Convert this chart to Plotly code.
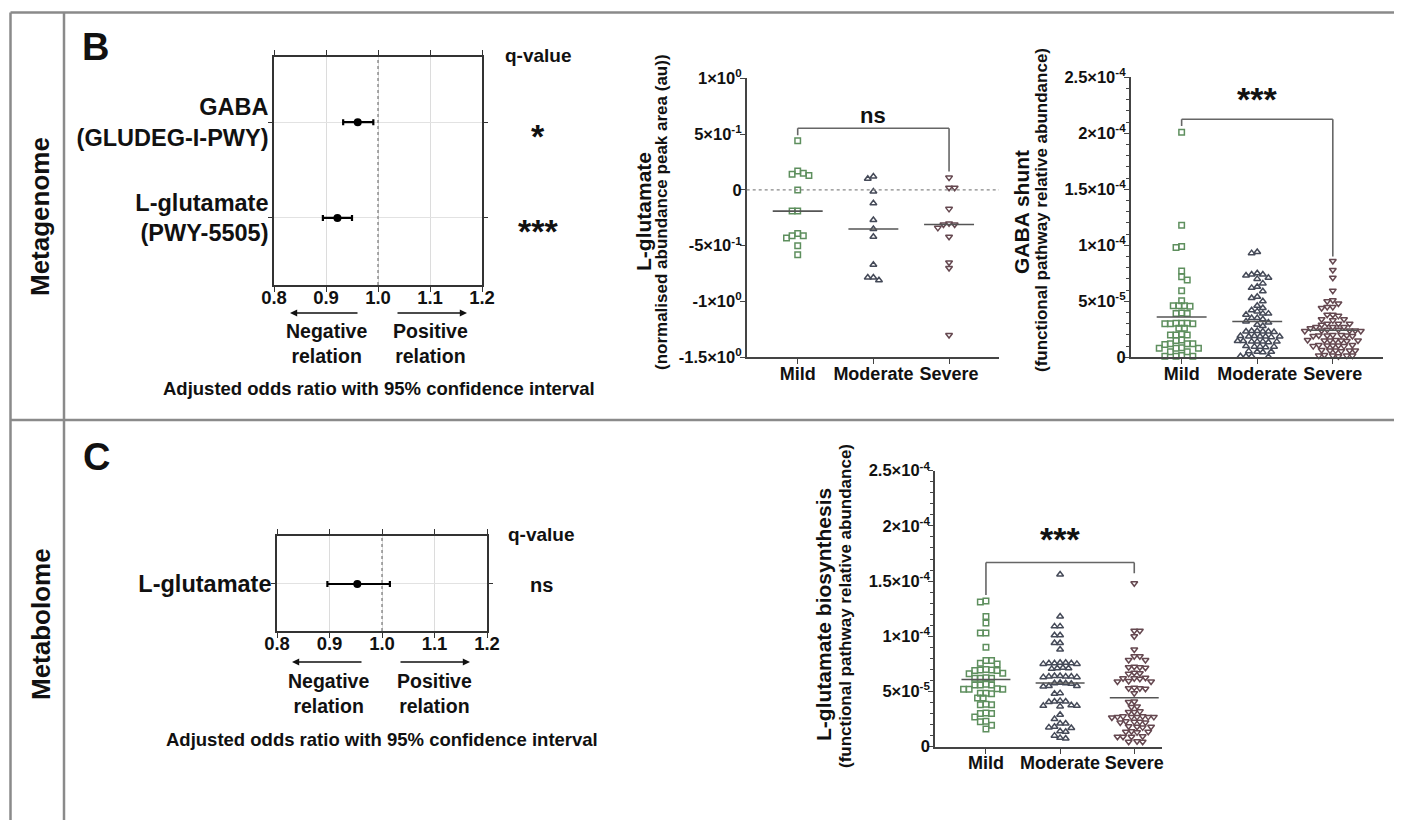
import numpy as np
import plotly.graph_objects as go

W, H = 1402, 820          # browser window
BODY = 8                  # default page margin around the plot div
FW, FH = W - BODY, H - BODY
FONT = "Liberation Sans, Arial, sans-serif"

# ---------------- data ----------------
groups = ["Mild", "Moderate", "Severe"]

# forest plots (adjusted odds ratio, 95% CI)
forest_b_labels = ["GABA<br>(GLUDEG-I-PWY)", "L-glutamate<br>(PWY-5505)"]
forest_b_or = [0.961, 0.922]
forest_b_lo = [0.933, 0.894]
forest_b_hi = [0.991, 0.950]
forest_b_q = ["*", "***"]

forest_c_labels = ["L-glutamate"]
forest_c_or = [0.953]
forest_c_lo = [0.896]
forest_c_hi = [1.015]
forest_c_q = ["ns"]

forest_ticks = [0.8, 0.9, 1.0, 1.1, 1.2]

# L-glutamate (normalised abundance peak area)
lglu_mild = [0.44, 0.17, 0.15, 0.13, 0.14, 0.0, -0.19, -0.19, -0.39, -0.41, -0.43, -0.41, -0.50, -0.58]
lglu_moderate = [0.10, 0.12, -0.015, -0.12, -0.27, -0.35, -0.42, -0.67, -0.81, -0.785, -0.785]
lglu_severe = [0.11, 0.02, 0.02, -0.17, -0.30, -0.31, -0.31, -0.34, -0.42, -0.65, -0.70, -1.30]
lglu_ticks = [1, 0.5, 0, -0.5, -1, -1.5]
lglu_ticktext = ["1×10<sup>0</sup>", "5×10<sup>-1</sup>", "0", "-5×10<sup>-1</sup>",
                 "-1×10<sup>0</sup>", "-1.5×10<sup>0</sup>"]

# GABA shunt (values in units of 1e-5)
gaba_mild = [20.1, 11.8, 9.9, 9.8, 7.7, 7.2, 6.9, 5.95, 5.06, 4.6, 4.6, 4.55, 4.6, 3.95, 3.9, 3.9,
             3.05, 3.0, 3.05, 3.0, 3.0, 3.05, 2.6, 2.6, 2.0, 2.05, 2.0, 2.0, 1.55, 1.5, 1.2, 1.2,
             1.15, 1.2, 0.8, 0.8, 0.85, 0.8, 0.5, 0.5, 0.1, 0.15, 0.1, 0.1]
gaba_moderate = [9.4, 9.3, 7.5, 7.4, 7.4, 7.3, 7.1, 7.0, 6.6, 6.3, 6.2, 5.9, 5.4, 5.3, 5.0, 4.6, 4.4,
                 4.2, 4.1, 3.9, 3.9, 3.8, 3.5, 3.5, 3.4, 3.2, 3.1, 2.9, 2.8,
                 2.35, 2.3, 2.3, 2.25, 2.3, 2.35, 1.9, 1.85, 1.85, 1.8, 1.85, 1.9, 1.85,
                 1.4, 1.45, 1.4, 1.35, 1.4, 1.45, 1.4, 0.95, 0.9, 1.0, 0.95, 0.95,
                 0.5, 0.5, 0.55, 0.45, 0.1, 0.05, 0.1, 0.1]
gaba_severe = [8.6, 7.8, 7.1, 5.95, 5.1, 5.0, 4.8, 4.5, 4.5, 4.4, 3.8, 3.8, 3.7, 3.4, 3.4, 3.3,
               3.0, 3.0, 3.0, 2.9, 2.7, 2.7, 2.7, 2.6,
               2.45, 2.4, 2.4, 2.35, 2.4, 2.45, 2.35, 1.95, 2.0, 1.95, 1.9, 1.95, 2.0, 1.9,
               1.5, 1.55, 1.5, 1.45, 1.5, 1.55, 1.5, 1.05, 1.1, 1.05, 1.0, 1.05, 1.1, 1.0,
               0.6, 0.65, 0.6, 0.55, 0.6, 0.6, 0.15, 0.2, 0.15, 0.1, 0.15, 0.15]
e5_ticks = [0, 5, 10, 15, 20, 25]
e5_ticktext = ["0", "5×10<sup>-5</sup>", "1×10<sup>-4</sup>", "1.5×10<sup>-4</sup>",
               "2×10<sup>-4</sup>", "2.5×10<sup>-4</sup>"]
E5 = 1e-5

# L-glutamate biosynthesis (values in units of 1e-5)
bio_mild = [13.1, 13.2, 11.8, 11.2, 10.3, 10.3, 9.0, 7.8, 7.8, 7.55, 7.5, 6.95, 6.9, 6.95, 7.0, 6.9,
            6.65, 6.6, 6.2, 6.2, 6.25, 6.2, 5.6, 5.6, 5.65, 5.6, 5.2, 5.2, 5.25, 5.2, 4.85, 4.8,
            4.85, 4.4, 4.4, 3.8, 3.8, 3.85, 3.0, 3.0, 3.05, 2.7, 2.3, 2.25, 1.95, 1.6]
bio_moderate = [15.6, 11.8, 10.9, 10.9, 10.1, 10.1, 9.4, 9.4, 8.8, 7.6, 7.55, 7.5, 7.55, 7.6, 7.5,
                7.55, 7.1, 7.15, 7.05, 7.1, 6.4, 6.35, 6.3, 6.35, 6.4, 6.3, 6.35, 5.75, 5.7, 5.8,
                5.75, 5.5, 5.45, 5.5, 4.85, 4.8, 4.1, 4.05, 4.1, 4.15, 3.7, 3.65, 3.7, 3.75, 2.9,
                2.5, 2.1, 2.1, 1.75, 1.7, 1.8, 1.35, 1.4, 1.0, 0.75, 0.8]
bio_severe = [14.8, 10.5, 10.5, 10.0, 8.8, 8.2, 8.2, 7.85, 7.85, 7.2, 7.15, 7.2, 7.25, 6.65, 6.6,
              6.7, 6.2, 6.2, 6.25, 6.15, 5.9, 5.95, 5.9, 5.3, 5.3, 5.25, 5.35, 4.85, 4.1, 4.05,
              3.6, 3.65, 3.15, 3.2, 3.15, 2.7, 2.7, 2.75, 2.7, 2.65, 2.7, 2.75, 2.7, 2.25, 2.3,
              2.25, 2.2, 2.2, 1.8, 1.8, 1.85, 1.75, 1.4, 1.35, 1.35, 1.3, 0.9, 0.9, 0.95, 0.9,
              0.5, 0.45, 0.45]

# ---------------- geometry helpers (page pixels -> paper fraction) ----------------
def px(x):
    return (x - BODY) / FW


def py(y):
    return 1 - (y - BODY) / FH


MILD_C, MOD_C, SEV_C = "#5e8f5e", "#454a58", "#654850"
group_styles = [
    dict(symbol="square-open", color=MILD_C, size=5.5),
    dict(symbol="triangle-up-open", color=MOD_C, size=6),
    dict(symbol="triangle-down-open", color=SEV_C, size=6),
]

panels = {
    "lglu": dict(ax=3, xpx=(746.7, 999.0), xr=(-0.674, 2.66), ypx=(357.3, 78.3), yr=(-1.5, 1.0)),
    "gaba": dict(ax=4, xpx=(1130.7, 1382.7), xr=(-0.674, 2.66), ypx=(357.3, 77.3), yr=(0, 25)),
    "bio": dict(ax=5, xpx=(935.0, 1161.7), xr=(-0.687, 2.37), ypx=(746.7, 470.7), yr=(0, 25)),
}


def swarm_offsets(vals, y_ppu, x_ppu, d=5.6):
    vals = np.asarray(vals, float)
    ypix = vals * y_ppu
    order = np.argsort(-vals, kind="stable")
    step = d / 2.0
    placed = []
    xoff = np.zeros(len(vals))
    for n, idx in enumerate(order):
        sign = 1 if n % 2 == 0 else -1
        cands = [0.0]
        for k in range(1, 120):
            cands += [sign * k * step, -sign * k * step]
        for c in cands:
            if all((c - a) ** 2 + (ypix[idx] - b) ** 2 >= d * d * 0.97 for a, b in placed):
                break
        placed.append((c, ypix[idx]))
        xoff[idx] = c / x_ppu
    return xoff


fig = go.Figure()
shapes = []
annotations = []


def add_forest(xa, ya, labels, orv, lo, hi):
    rows = list(range(len(labels), 0, -1))
    orv = np.array(orv); lo = np.array(lo); hi = np.array(hi)
    fig.add_trace(go.Scatter(
        x=orv, y=rows, mode="markers", xaxis=xa, yaxis=ya,
        marker=dict(color="black", size=8, symbol="circle"),
        error_x=dict(type="data", symmetric=False, array=hi - orv, arrayminus=orv - lo,
                     thickness=2.2, width=3, color="black"),
        showlegend=False, hoverinfo="skip"))
    return rows


rows_b = add_forest("x", "y", forest_b_labels, forest_b_or, forest_b_lo, forest_b_hi)
rows_c = add_forest("x2", "y2", forest_c_labels, forest_c_or, forest_c_lo, forest_c_hi)

forest_axis = dict(range=[0.8, 1.2], tickvals=forest_ticks,
                   ticktext=[f"{t:.1f}" for t in forest_ticks],
                   showgrid=True, gridcolor="#dcdcdc", gridwidth=1, zeroline=False,
                   showline=True, linecolor="#333", linewidth=1.6, mirror="allticks",
                   ticks="outside", ticklen=5, tickcolor="#333", tickwidth=1.3, automargin=False,
                   ticklabelstandoff=-10,
                   tickfont=dict(family=FONT, size=18.5, color="#111", weight="bold"), fixedrange=True)

scatter_sets = [
    ("lglu", [lglu_mild, lglu_moderate, lglu_severe], 1.0, np.median),
    ("gaba", [gaba_mild, gaba_moderate, gaba_severe], E5, np.mean),
    ("bio", [bio_mild, bio_moderate, bio_severe], E5, np.mean),
]

for key, data, scale, stat in scatter_sets:
    p = panels[key]
    xa, ya = f"x{p['ax']}", f"y{p['ax']}"
    x_ppu = (p["xpx"][1] - p["xpx"][0]) / (p["xr"][1] - p["xr"][0])
    y_ppu = (p["ypx"][0] - p["ypx"][1]) / (p["yr"][1] - p["yr"][0])
    for gi, vals in enumerate(data):
        offs = swarm_offsets(vals, y_ppu, x_ppu)
        st = group_styles[gi]
        fig.add_trace(go.Scatter(
            x=gi + offs, y=np.array(vals) * scale, mode="markers", xaxis=xa, yaxis=ya,
            marker=dict(symbol=st["symbol"], color=st["color"], size=st["size"],
                        line=dict(width=1.5, color=st["color"])),
            cliponaxis=False, showlegend=False, hoverinfo="skip"))
        c = float(stat(vals)) * scale
        shapes.append(dict(type="line", xref=xa, yref=ya, x0=gi - 0.33, x1=gi + 0.33, y0=c, y1=c,
                           line=dict(color="#555", width=1.6)))

scatter_x_axis = dict(tickvals=[0, 1, 2], ticktext=groups, showgrid=False, zeroline=False,
                      showline=True, linecolor="#444", linewidth=1.6, ticks="outside", ticklen=5,
                      tickcolor="#444", tickwidth=1.3, automargin=False, ticklabelstandoff=-6,
                      tickfont=dict(family=FONT, size=18, color="#111", weight="bold"), fixedrange=True)
scatter_y_axis = dict(showgrid=False, zeroline=False, showline=True, linecolor="#444", linewidth=1.6,
                      ticks="outside", ticklen=5, tickcolor="#444", tickwidth=1.3, automargin=False,
                      ticklabelstandoff=-5,
                      tickfont=dict(family=FONT, size=16.5, color="#111", weight="bold"), fixedrange=True)

forest_y_common = dict(showgrid=True, gridcolor="#e2e2e2", zeroline=False, showline=True,
                       linecolor="#333", linewidth=1.6, mirror="allticks", ticks="outside", ticklen=4,
                       tickcolor="#333", automargin=False, ticklabelstandoff=-5,
                       tickfont=dict(family=FONT, size=23.5, color="#111", weight="bold"),
                       fixedrange=True)

layout_axes = {}
layout_axes["xaxis"] = dict(forest_axis, domain=[px(274), px(482)], anchor="y")
layout_axes["yaxis"] = dict(forest_y_common, domain=[py(285), py(57)], anchor="x", range=[0.30, 2.68],
                            tickvals=rows_b, ticktext=forest_b_labels)
layout_axes["xaxis2"] = dict(forest_axis, domain=[px(277), px(487)], anchor="y2")
layout_axes["yaxis2"] = dict(forest_y_common, domain=[py(631), py(536)], anchor="x2", range=[0.51, 1.50],
                             tickvals=rows_c, ticktext=forest_c_labels)

for key, p in panels.items():
    n = p["ax"]
    layout_axes[f"xaxis{n}"] = dict(scatter_x_axis, domain=[px(p["xpx"][0]), px(p["xpx"][1])],
                                    range=list(p["xr"]), anchor=f"y{n}")
    yax = dict(scatter_y_axis, domain=[py(p["ypx"][0]), py(p["ypx"][1])], anchor=f"x{n}")
    if key == "lglu":
        yax.update(range=list(p["yr"]), tickvals=lglu_ticks, ticktext=lglu_ticktext)
    else:
        yax.update(range=[p["yr"][0] * E5, p["yr"][1] * E5], tickvals=[t * E5 for t in e5_ticks],
                   ticktext=e5_ticktext,
                   minor=dict(ticks="outside", ticklen=3, dtick=E5, tickcolor="#444", tickwidth=1))
    layout_axes[f"yaxis{n}"] = yax

# dotted reference lines
shapes.append(dict(type="line", xref="x", yref="y domain", x0=1.0, x1=1.0, y0=0, y1=1,
                   line=dict(color="#777", width=1.2, dash="dot")))
shapes.append(dict(type="line", xref="x2", yref="y2 domain", x0=1.0, x1=1.0, y0=0, y1=1,
                   line=dict(color="#777", width=1.2, dash="dot")))
shapes.append(dict(type="line", xref="x3 domain", yref="y3", x0=0, x1=1, y0=0, y1=0,
                   line=dict(color="#888", width=1.2, dash="dot")))

# significance brackets: (axis id, y_bar, y_left_end, y_right_end, text, text_y)
brackets = [
    (3, 0.552, 0.49, 0.164, "ns", 0.67),
    (4, 21.25 * E5, 20.65 * E5, 8.99 * E5, "***", 23.9 * E5),
    (5, 16.68 * E5, 13.75 * E5, 15.7 * E5, "***", 19.6 * E5),
]
for n, yb, yl, yr_, label, ty in brackets:
    xa, ya = f"x{n}", f"y{n}"
    for (x0, y0, x1, y1) in [(0, yl, 0, yb), (0, yb, 2, yb), (2, yb, 2, yr_)]:
        shapes.append(dict(type="line", xref=xa, yref=ya, x0=x0, y0=y0, x1=x1, y1=y1,
                           line=dict(color="#666", width=1.6)))
    star = label.startswith("*")
    annotations.append(dict(xref=xa, yref=ya, x=1, y=ty, text=label, showarrow=False,
                            yshift=-9 if star else 0,
                            font=dict(family=FONT, size=34 if star else 22, color="#111",
                                      weight="bold")))

# frame
FR = dict(color="#8a8a8a", width=2.5)
for (x0, y0, x1, y1) in [(10.5, 12.5, W, 12.5), (10.5, 420, W, 420), (10.5, 12.5, 10.5, H),
                         (64, 12.5, 64, H)]:
    shapes.append(dict(type="line", xref="paper", yref="paper", x0=px(x0), y0=py(y0), x1=px(x1),
                       y1=py(y1), line=FR))


def txt(x, y, text, size, angle=0, yshift=0):
    annotations.append(dict(xref="paper", yref="paper", x=px(x), y=py(y), text=text, showarrow=False,
                            textangle=angle, xanchor="center", yanchor="middle", yshift=yshift,
                            font=dict(family=FONT, size=size, color="#111", weight="bold")))


txt(95, 47, "B", 38)
txt(96, 457, "C", 38)
txt(40, 217, "Metagenome", 26, angle=-90)
txt(41, 624, "Metabolome", 26, angle=-90)

txt(538, 55, "q-value", 19)
txt(538, 136, forest_b_q[0], 34)
txt(538, 231, forest_b_q[1], 34)
txt(541, 534, "q-value", 19)
txt(541, 585, forest_c_q[0], 20)
for (ynr, yadj, xneg, xpos, xadj) in [(343, 388, 326, 430, 379), (693, 739, 328, 434, 382)]:
    txt(xneg, ynr, "Negative<br>relation", 19.5)
    txt(xpos, ynr, "Positive<br>relation", 19.5)
    txt(xadj, yadj, "Adjusted odds ratio with 95% confidence interval", 18.5)

# arrows under forest plots: (y, left head, left tail, right tail, right head)
for (yy, lh, lt, rt, rh) in [(313, 290, 359, 396, 467), (662, 292, 363, 399, 470)]:
    for head, tail in [(lh, lt), (rh, rt)]:
        annotations.append(dict(xref="paper", yref="paper", x=px(head), y=py(yy), ax=tail - head, ay=0,
                                axref="pixel", ayref="pixel", text="", showarrow=True,
                                arrowhead=2, arrowsize=0.9, arrowwidth=1.6, arrowcolor="#111"))

# scatter y titles
ytitles = [
    (643, 661, 212, 212, "L-glutamate", "(normalised abundance peak area (au))"),
    (1021, 1042, 212, 210, "GABA shunt", "(functional pathway relative abundance)"),
    (823, 845, 614, 606, "L-glutamate biosynthesis", "(functional pathway relative abundance)"),
]
for xm, xs, ym, ys, main, sub in ytitles:
    txt(xm, ym, main, 21, angle=-90)
    txt(xs, ys, sub, 17, angle=-90)

fig.update_layout(
    width=FW, height=FH, margin=dict(l=0, r=0, t=0, b=0, pad=0, autoexpand=False),
    paper_bgcolor="white", plot_bgcolor="white", showlegend=False,
    font=dict(family=FONT, color="#111"),
    shapes=shapes, annotations=annotations, **layout_axes)

fig.write_html("out.html")
